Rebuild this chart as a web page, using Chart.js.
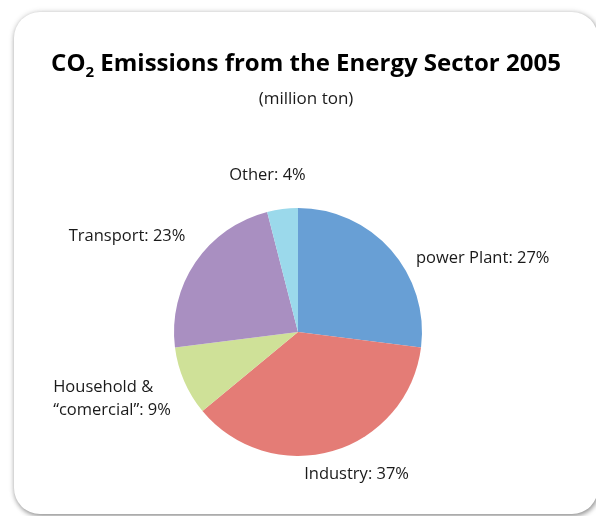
<!DOCTYPE html>
<html>
<head>
<meta charset="utf-8">
<script src="https://cdn.jsdelivr.net/npm/chart.js@4"></script>
<style>
  html, body { margin: 0; padding: 0; background: #fff; }
  #wrap { position: relative; width: 596px; height: 516px; overflow: hidden; }
  #card {
    position: absolute; left: 14px; top: 12px; width: 584px; height: 502px;
    background: #fff; border-radius: 26px;
    box-shadow: 1px 2px 5px rgba(0, 0, 0, 0.4), 0 0 6px rgba(0, 0, 0, 0.12);
  }
  #chart { position: absolute; left: 0; top: 0; }
</style>
</head>
<body>
<div id="wrap">
  <div id="card"></div>
  <canvas id="chart" width="596" height="516"></canvas>
</div>
<script>
const sectors = ['power Plant', 'Industry', 'Household &\n\u201ccomercial\u201d', 'Transport', 'Other'];
const shares = [27, 37, 9, 23, 4];
const sliceColors = ['#689fd5', '#e47c76', '#cfe198', '#a98fc1', '#9bd9eb'];

// where each label sits relative to the outer midpoint of its slice
const labelOffsets = [[25, 8], [24, 23], [-131, 18], [-10, -26], [-15, -34]];
const labelAligns = ['left', 'center', 'left', 'right', 'center'];

const ctx = document.getElementById('chart').getContext('2d');

const headerPlugin = {
  id: 'header',
  afterDraw(chart) {
    const c = chart.ctx;
    c.save();
    c.fillStyle = '#000';
    c.textBaseline = 'alphabetic';
    const big = 'bold 24px "Open Sans"';
    const sub = 'bold 15px "Open Sans"';
    const rest = ' Emissions from the Energy Sector 2005';
    c.font = big;
    const wCO = c.measureText('CO').width;
    const wRest = c.measureText(rest).width;
    c.font = sub;
    const w2 = c.measureText('2').width;
    const total = wCO + w2 + wRest;
    let x = 306 - total / 2;
    c.textAlign = 'left';
    c.font = big;
    c.fillText('CO', x, 71);
    x += wCO;
    c.font = sub;
    c.fillText('2', x, 77);
    x += w2;
    c.font = big;
    c.fillText(rest, x, 71);

    c.font = '17px "Open Sans"';
    c.textAlign = 'center';
    c.fillStyle = '#1a1a1a';
    c.fillText('(million ton)', 306, 104);
    c.restore();
  }
};

const sliceLabels = {
  id: 'sliceLabels',
  afterDatasetsDraw(chart) {
    const c = chart.ctx;
    const meta = chart.getDatasetMeta(0);
    c.save();
    c.font = '16.5px "Open Sans"';
    c.fillStyle = '#1a1a1a';
    c.textBaseline = 'middle';
    meta.data.forEach((arc, i) => {
      const mid = (arc.startAngle + arc.endAngle) / 2;
      const px = arc.x + Math.cos(mid) * arc.outerRadius + labelOffsets[i][0];
      const py = arc.y + Math.sin(mid) * arc.outerRadius + labelOffsets[i][1];
      const lines = (sectors[i] + ': ' + shares[i] + '%').split('\n');
      c.textAlign = labelAligns[i];
      const top = py - (lines.length - 1) * 23 / 2;
      lines.forEach((ln, j) => c.fillText(ln, px, top + j * 23));
    });
    c.restore();
  }
};

new Chart(ctx, {
  type: 'pie',
  data: {
    labels: sectors,
    datasets: [{
      data: shares,
      backgroundColor: sliceColors,
      borderWidth: 0
    }]
  },
  options: {
    responsive: false,
    animation: false,
    layout: { padding: { left: 174, right: 174, top: 208, bottom: 60 } },
    plugins: {
      legend: { display: false },
      tooltip: { enabled: false }
    }
  },
  plugins: [headerPlugin, sliceLabels]
});
</script>
</body>
</html>
